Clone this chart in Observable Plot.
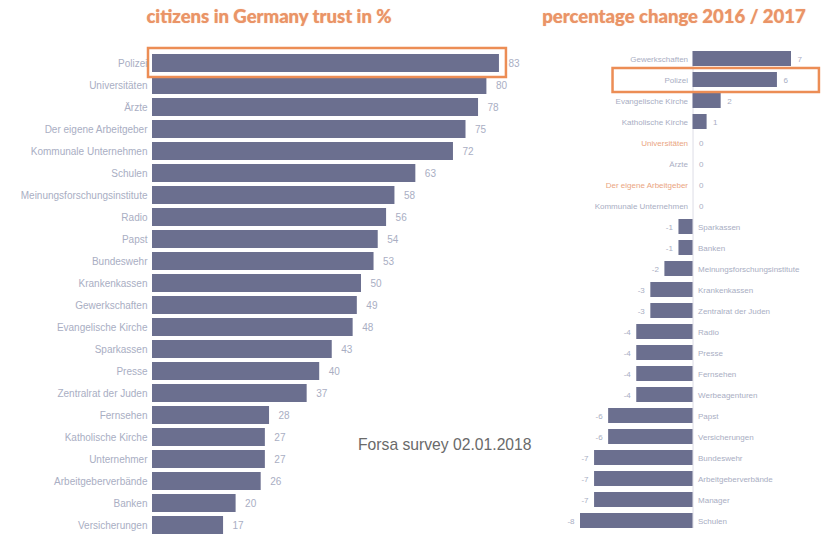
<!DOCTYPE html>
<html>
<head>
<meta charset="utf-8">
<script src="https://cdn.jsdelivr.net/npm/d3@7"></script>
<script src="https://cdn.jsdelivr.net/npm/@observablehq/plot@0.6"></script>
<style>
  html, body { margin: 0; padding: 0; background: #fff; }
  #chart { position: relative; width: 821px; height: 535px; overflow: hidden; background: #fff; }
  #chart svg { position: absolute; top: 0; background: transparent; }
  .title { position: absolute; top: 5px; font-family: Lato, "Open Sans", sans-serif; font-weight: 900; font-size: 18.5px; color: #ea9467; white-space: nowrap; transform: translateX(-50%); text-shadow: 0 0 1px #f3b896; }
  .caption { position: absolute; left: 358px; top: 436px; font-family: "Liberation Sans", Arial, sans-serif; font-size: 15.7px; color: #6a6a6a; white-space: nowrap; }
</style>
</head>
<body>
<div id="chart"></div>
<script>
// ---- data ----
const leftCategories = ["Polizei","Universitäten","Ärzte","Der eigene Arbeitgeber","Kommunale Unternehmen","Schulen","Meinungsforschungsinstitute","Radio","Papst","Bundeswehr","Krankenkassen","Gewerkschaften","Evangelische Kirche","Sparkassen","Presse","Zentralrat der Juden","Fernsehen","Katholische Kirche","Unternehmer","Arbeitgeberverbände","Banken","Versicherungen"];
const leftValues = [83,80,78,75,72,63,58,56,54,53,50,49,48,43,40,37,28,27,27,26,20,17];

const rightCategories = ["Gewerkschaften","Polizei","Evangelische Kirche","Katholische Kirche","Universitäten","Ärzte","Der eigene Arbeitgeber","Kommunale Unternehmen","Sparkassen","Banken","Meinungsforschungsinstitute","Krankenkassen","Zentralrat der Juden","Radio","Presse","Fernsehen","Werbeagenturen","Papst","Versicherungen","Bundeswehr","Arbeitgeberverbände","Manager","Schulen"];
const rightValues = [7,6,2,1,0,0,0,0,-1,-1,-2,-3,-3,-4,-4,-4,-4,-6,-6,-7,-7,-7,-8];

const highlighted = ["Polizei"];
const orangeLabels = ["Universitäten","Der eigene Arbeitgeber"];

const titleLeft = "citizens in Germany trust in %";
const titleRight = "percentage change 2016 / 2017";
const captionText = "Forsa survey 02.01.2018";

// ---- build ----
const left = leftCategories.map((name, i) => ({name, value: leftValues[i]}));
const right = rightCategories.map((name, i) => ({name, value: rightValues[i]}));

const barColor = "#6b6f8f";
const labelColor = "#a9aec3";
const orange = "#ec8d55";
const font = "'Liberation Sans', Arial, sans-serif";

const chart = document.getElementById("chart");

const leftPlot = Plot.plot({
  width: 570, height: 535,
  marginLeft: 152, marginRight: 0, marginTop: 53, marginBottom: 0,
  style: {fontFamily: font, fontSize: "10px", color: labelColor, background: "transparent"},
  x: {domain: [0, 100], axis: null},
  y: {domain: leftCategories, paddingInner: 0.2, paddingOuter: 0, label: null, axis: null},
  marks: [
    Plot.barX(left, {x: "value", y: "name", fill: barColor}),
    Plot.text(left, {x: "value", y: "name", text: d => String(d.value), dx: 9, textAnchor: "start", fill: labelColor}),
    Plot.barX(left.filter(d => highlighted.includes(d.name)), {x1: 0, x2: "value", y: "name", fill: "none", stroke: orange, strokeWidth: 2.5, insetLeft: -4, insetRight: -7, insetTop: -6, insetBottom: -5}),
    Plot.axisY({tickSize: 0, tickPadding: 5, label: null, fill: labelColor})
  ]
});
leftPlot.style.left = "0px";
chart.appendChild(leftPlot);

const pos = right.filter(d => d.value >= 0);
const neg = right.filter(d => d.value < 0);
const rightPlot = Plot.plot({
  width: 276, height: 535,
  marginLeft: 35, marginRight: 30, marginTop: 51, marginBottom: 7,
  style: {fontFamily: font, fontSize: "8px", color: labelColor, background: "transparent"},
  x: {domain: [-8, 7], axis: null},
  y: {domain: rightCategories, paddingInner: 0.3, paddingOuter: 0, axis: null},
  marks: [
    Plot.ruleX([0], {stroke: "#d4d6e0", strokeWidth: 0.8}),
    Plot.barX(right, {x: "value", y: "name", fill: barColor}),
    Plot.text(pos, {x: 0, y: "name", text: "name", dx: -5, textAnchor: "end", fill: d => orangeLabels.includes(d.name) ? "#eaa57f" : labelColor}),
    Plot.text(neg, {x: 0, y: "name", text: "name", dx: 5, textAnchor: "start", fill: labelColor}),
    Plot.text(pos, {x: "value", y: "name", text: d => String(d.value), dx: 6, textAnchor: "start", fill: labelColor}),
    Plot.text(neg, {x: "value", y: "name", text: d => String(d.value), dx: -6, textAnchor: "end", fill: labelColor}),
    Plot.barX(right.filter(d => highlighted.includes(d.name)), {x1: 0, x2: "value", y: "name", fill: "none", stroke: orange, strokeWidth: 2.5, insetLeft: -80, insetRight: -42, insetTop: -4, insetBottom: -5})
  ]
});
rightPlot.style.left = "545px";
chart.appendChild(rightPlot);

function addDiv(cls, text, x) {
  const d = document.createElement("div");
  d.className = cls;
  d.textContent = text;
  if (x !== undefined) d.style.left = x + "px";
  chart.appendChild(d);
}
addDiv("title", titleLeft, 269);
addDiv("title", titleRight, 674);
addDiv("caption", captionText);
</script>
</body>
</html>
